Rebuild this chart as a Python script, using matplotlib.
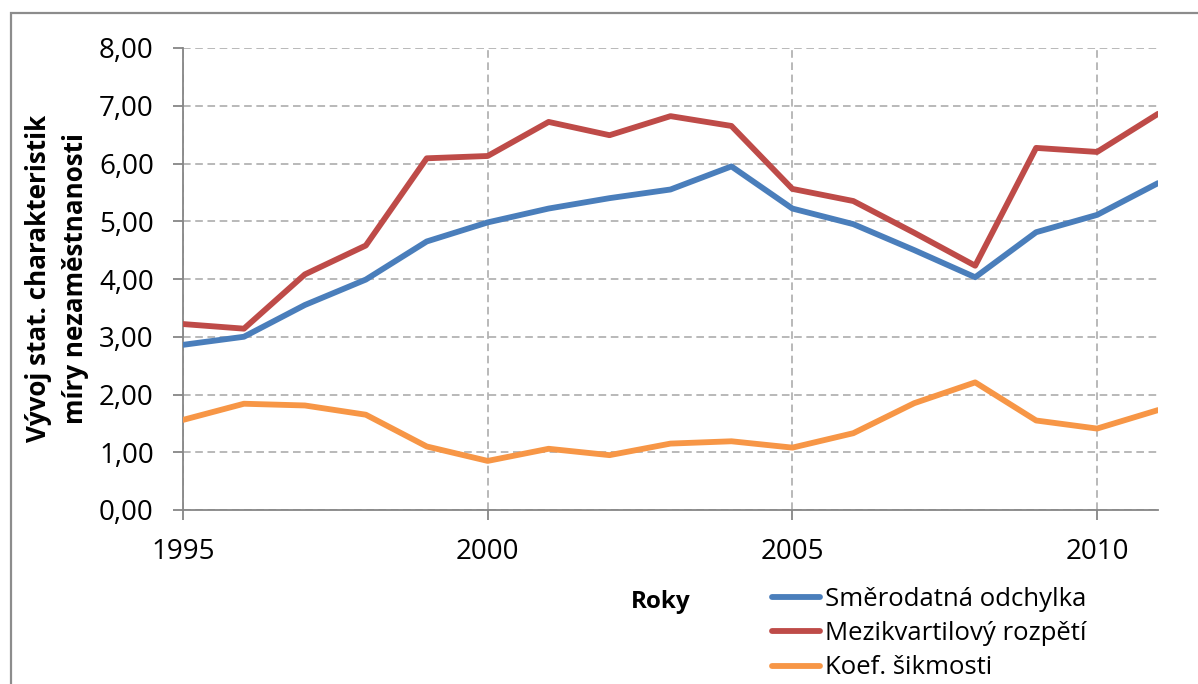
import matplotlib
matplotlib.use("Agg")
import matplotlib.pyplot as plt
from matplotlib.patches import Rectangle

# Annual statistics of the unemployment rate distribution
years = [1995, 1996, 1997, 1998, 1999, 2000, 2001, 2002, 2003,
         2004, 2005, 2006, 2007, 2008, 2009, 2010, 2011]
smerodatna = [2.86, 3.00, 3.55, 3.99, 4.65, 4.98, 5.22, 5.40, 5.55,
              5.95, 5.22, 4.95, 4.50, 4.03, 4.81, 5.11, 5.66]
mezikvartil = [3.22, 3.14, 4.08, 4.58, 6.09, 6.13, 6.72, 6.49, 6.82,
               6.65, 5.56, 5.35, 4.80, 4.23, 6.27, 6.20, 6.86]
sikmost = [1.56, 1.84, 1.81, 1.65, 1.10, 0.85, 1.06, 0.95, 1.15,
           1.19, 1.08, 1.33, 1.85, 2.21, 1.55, 1.41, 1.73]

series_names = ["Směrodatná odchylka", "Mezikvartilový rozpětí", "Koef. šikmosti"]
series_colors = ["#4A7EBB", "#BE4B48", "#F79646"]

x_ticks = [1995, 2000, 2005, 2010]
x_tick_labels = ["1995", "2000", "2005", "2010"]
y_ticks = [0, 1, 2, 3, 4, 5, 6, 7, 8]
y_tick_labels = ["0,00", "1,00", "2,00", "3,00", "4,00", "5,00", "6,00", "7,00", "8,00"]

plt.rcParams["font.family"] = ["Open Sans", "DejaVu Sans"]

W, H = 1198, 684
fig = plt.figure(figsize=(W / 100, H / 100), dpi=100)
fig.patch.set_facecolor("white")

# chart-area frame
fig.patches.append(Rectangle((11 / W, -0.1), 1.2, 1.1 - 13 / H,
                             transform=fig.transFigure, fill=False,
                             edgecolor="#8C8C8C", linewidth=1.6))

ax = fig.add_axes([183 / W, 1 - 510 / H, (1158 - 183) / W, (510 - 48) / H])

for vals, name, col in zip([smerodatna, mezikvartil, sikmost], series_names, series_colors):
    ax.plot(years, vals, color=col, linewidth=4.2, label=name,
            solid_capstyle="round", solid_joinstyle="round", zorder=3)

ax.set_xlim(1995, 2011)
ax.set_ylim(0, 8)
ax.set_xticks(x_ticks)
ax.set_xticklabels(x_tick_labels)
ax.set_yticks(y_ticks)
ax.set_yticklabels(y_tick_labels)

grid_kw = dict(color="#A6A6A6", linewidth=1.1, dashes=(5, 3))
ax.grid(True, axis="both", **grid_kw)
ax.set_axisbelow(True)

for side in ["top", "right"]:
    ax.spines[side].set_visible(False)
for side in ["left", "bottom"]:
    ax.spines[side].set_color("#868686")
    ax.spines[side].set_linewidth(1.3)

ax.tick_params(axis="both", colors="#868686", length=7, width=1.3,
               labelsize=20, labelcolor="black", direction="out")
ax.tick_params(axis="y", pad=14)
ax.tick_params(axis="x", pad=13)

# y-axis title (two lines, bold)
fig.text(57 / W, 1 - 278 / H, "Vývoj stat. charakteristik\nmíry nezaměstnanosti",
         rotation=90, ha="center", va="center", fontsize=18.7, fontweight="bold",
         linespacing=1.45)

# x-axis title
fig.text(661 / W, 1 - 602 / H, "Roky", ha="center", va="center",
         fontsize=17.5, fontweight="bold")

leg = fig.legend(loc="upper left", bbox_to_anchor=(772 / W, 1 - 587 / H),
                 frameon=False, fontsize=18.5, handlelength=1.85,
                 handletextpad=0.2, labelspacing=0.36, borderaxespad=0,
                 borderpad=0)
for line in leg.get_lines():
    line.set_linewidth(4.2)

fig.savefig("out.png", dpi=100)
